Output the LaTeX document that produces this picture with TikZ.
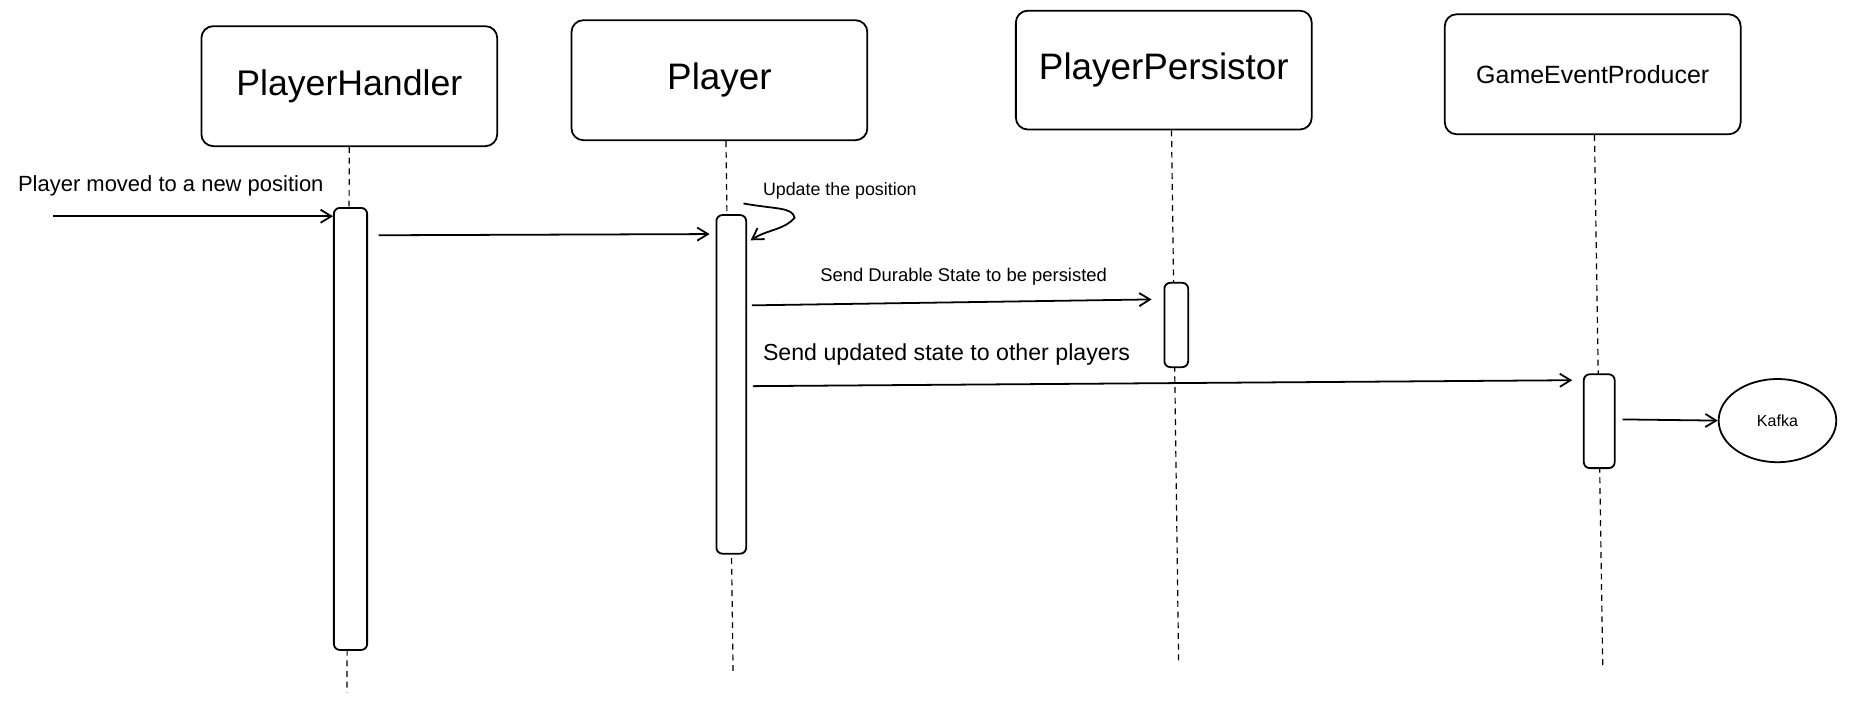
\documentclass[tikz,border=0pt]{standalone}
\usepackage{fontspec}
\setmainfont{Liberation Sans}
\usetikzlibrary{arrows.meta,calc,shapes.geometric}
\begin{document}
\begin{tikzpicture}[x=1pt,y=-1pt,
  actor/.style={draw,line width=1.5pt,rounded corners=10pt,inner sep=0pt,minimum width=249pt,minimum height=101pt,fill=white},
  actbar/.style={draw,line width=1.5pt,rounded corners=5pt,inner sep=0pt,fill=white},
  life/.style={line width=1pt,dash pattern=on 5pt off 4pt},
  msg/.style={line width=1.5pt,-{Straight Barb[length=9pt,width=11pt,line width=1.5pt]}},
  lbl/.style={inner sep=0pt}
]
\useasboundingbox (0,0) rectangle (1568,592);
% actors
\node[actor] (ph) at (294,72.5) {\fontsize{30}{34}\selectfont PlayerHandler};
\node[actor] (pl) at (605.5,67.5) {\fontsize{31}{35}\selectfont Player};
\node[actor,minimum height=100pt] (pp) at (979.5,59) {\fontsize{31}{35}\selectfont PlayerPersistor};
\node[actor] (ge) at (1340.5,62.5) {\fontsize{21}{25}\selectfont GameEventProducer};
% lifeline ends
\coordinate (phEnd) at (292,583);
\coordinate (plEnd) at (617,565);
\coordinate (ppEnd) at (992,558);
\coordinate (geEnd) at (1349,563);
\draw[life] (ph.south) -- (phEnd);
\draw[life] ([xshift=5.5pt]pl.south) -- (plEnd);
\draw[life] ([xshift=6.5pt]pp.south) -- (ppEnd);
\draw[life] ([xshift=1.5pt]ge.south) -- (geEnd);
% activation bars
\node[actbar,minimum width=28pt,minimum height=372pt] (b1) at (295,361) {};
\node[actbar,minimum width=25pt,minimum height=285pt] (b2) at (615.5,323.5) {};
\node[actbar,minimum width=20pt,minimum height=71pt] (b3) at (990,273.5) {};
\node[actbar,minimum width=26pt,minimum height=79pt] (b4) at (1346,354.5) {};
% kafka
\node[ellipse,draw,line width=1.5pt,minimum width=99pt,minimum height=70pt,inner sep=0pt] (kf) at (1496,354) {\fontsize{13.5}{16}\selectfont Kafka};
% messages
\coordinate (in1) at (45,182);
\draw[msg] (in1) -- (in1 -| b1.west);
\draw[msg] ($(b1.east)+(9,-163)$) -- ($(b2.west)+(-5,-126.5)$);
\coordinate (selfTip) at ($(b2.north east)+(40,3)$);
\draw[msg] ($(b2.north east)+(-3,-9)$) .. controls +(28,5) and +(-2,-9) .. (selfTip) .. controls +(-8,10) and +(14,-9) .. ($(b2.north east)+(3,22)$);
\draw[msg] ($(b2.east)+(4,-66.5)$) -- ($(b3.west)+(-10,-21.5)$);
\draw[msg] ($(b2.east)+(5,1.5)$) -- ($(b4.west)+(-9,-34.5)$);
\draw[msg] ($(b4.east)+(6,-1.5)$) -- (kf.west);
% labels
\node[lbl,anchor=west] (l1) at (15,156) {\fontsize{18.5}{21}\selectfont Player moved to a new position};
\node[lbl,anchor=west] (l2) at (642,161) {\fontsize{15}{18}\selectfont Update the position};
\node[lbl] (l3) at (811,233) {\fontsize{15.5}{18}\selectfont Send Durable State to be persisted};
\node[lbl,anchor=west] (l4) at (642,298) {\fontsize{19.5}{22}\selectfont Send updated state to other players};
\end{tikzpicture}
\end{document}
